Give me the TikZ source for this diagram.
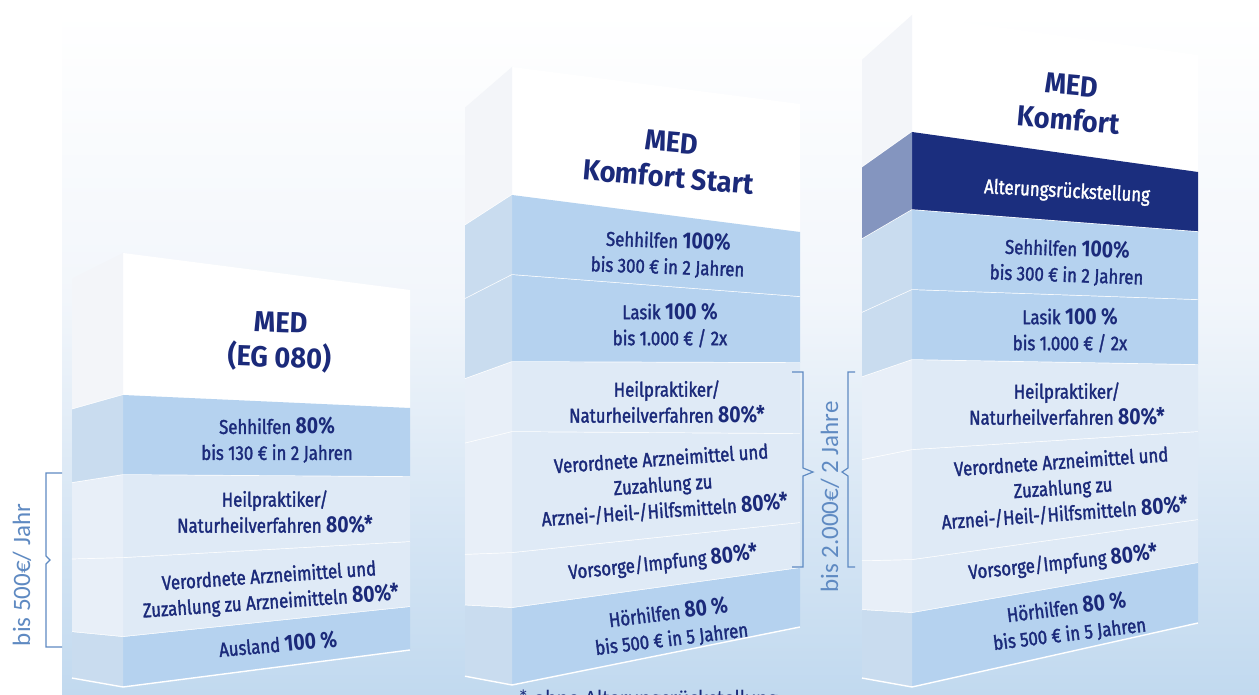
\documentclass[tikz,border=0pt]{standalone}
\usepackage{fontspec}
\setmainfont{Fira Sans}[FakeStretch=0.84]
\newfontfamily\wordfont{Fira Sans}[FakeStretch=0.84, FakeBold=1.6]
\newfontfamily\titlefont{Fira Sans}[FakeStretch=0.94]
\newfontfamily\calfont{Carlito}
\usetikzlibrary{calc}
\definecolor{navy}{HTML}{1B2A7A}
\definecolor{bandblue}{HTML}{B5D2EF}
\definecolor{bandlight}{HTML}{DFEAF6}
\definecolor{bandnavy}{HTML}{1B2E7E}
\definecolor{sideblue}{HTML}{C9DCEF}
\definecolor{sidelight}{HTML}{E8EFF8}
\definecolor{sidewhite}{HTML}{F3F5F9}
\definecolor{sidenavy}{HTML}{8495BF}
\definecolor{bracketblue}{HTML}{5F8AC2}
\definecolor{bgmid}{HTML}{F2F6FB}
\definecolor{bgblue}{HTML}{C1D9EF}
\tikzstyle{bandtext}=[align=center, text=navy, font=\wordfont\fontsize{10}{13}\selectfont, inner sep=0pt]
\tikzstyle{titletext}=[align=center, text=navy, font=\titlefont\fontsize{14.5}{17.5}\selectfont\bfseries, inner sep=0pt]
\tikzstyle{bracket}=[draw=bracketblue, line width=0.6pt]
\tikzstyle{bracketlabel}=[text=bracketblue, font=\calfont\fontsize{12.5}{12.5}\selectfont, rotate=90, inner sep=0pt]
\newcommand{\pct}[1]{{\normalfont\fontsize{11.5}{13}\selectfont\bfseries #1}}

\begin{document}
\begin{tikzpicture}[x=0.5pt, y=-0.5pt]

   \useasboundingbox (0,0) rectangle (1259,695);
   \clip (0,0) rectangle (1259,695);
   \fill[white] (0,0) rectangle (1259,695);
   \shade[top color=white, bottom color=bgmid] (62,10) rectangle (1259,300);
   \shade[top color=bgmid, bottom color=bgblue] (62,299) rectangle (1259,695);

% box 1: MED (EG 080)
  \def\sidex{72} \def\leftx{123} \def\rightx{410}
    \foreach \ta/\tb/\ba/\bb/\col/\scol in {253/290/395/408/white/sidewhite, 395/408/475/477/bandblue/sideblue, 475/477/558/542/bandlight/sidelight, 558/542/637/607/bandlight/sidelight, 637/607/687/650/bandblue/sideblue}
    {
        \fill[\col] (\leftx,\ta) -- (\rightx,\tb) -- (\rightx,\bb) -- (\leftx,\ba) -- cycle;
        \fill[\scol] (\sidex,{0.92*\ta+46}) -- (\leftx,\ta) -- (\leftx,\ba) -- (\sidex,{0.92*\ba+46}) -- cycle;
        \draw[white, line width=0.7pt] (\sidex,{0.92*\ba+46}) -- (\leftx,\ba) -- (\rightx,\bb);
    }

  \node[titletext, rotate=-2] (medeg) at (280,342) {MED\\(EG 080)};
  \node[bandtext] (seh1) at (277,440) {Sehhilfen \pct{80\%}\\bis 130 € in 2 Jahren};
  \node[bandtext] (heil1) at (275,512) {Heilpraktiker/\\Naturheilverfahren \pct{80\%*}};
  \node[bandtext, rotate=4] (arz1) at (270,590) {Verordnete Arzneimittel und\\Zuzahlung zu Arzneimitteln \pct{80\%*}};
  \node[bandtext, rotate=5] (ausl1) at (278,644) {Ausland \pct{100 \%}};

% box 2: MED Komfort Start
  \def\sidex{465} \def\leftx{512} \def\rightx{800}
    \foreach \ta/\tb/\ba/\bb/\col/\scol in {67/104/195/232/white/sidewhite, 195/232/275/297/bandblue/sideblue, 275/297/362/363/bandblue/sideblue, 362/363/432/434/bandlight/sidelight, 432/434/553/523/bandlight/sidelight, 553/523/608/568/bandlight/sidelight, 608/568/685/627/bandblue/sideblue}
    {
        \fill[\col] (\leftx,\ta) -- (\rightx,\tb) -- (\rightx,\bb) -- (\leftx,\ba) -- cycle;
        \fill[\scol] (\sidex,{0.92*\ta+46}) -- (\leftx,\ta) -- (\leftx,\ba) -- (\sidex,{0.92*\ba+46}) -- cycle;
        \draw[white, line width=0.7pt] (\sidex,{0.92*\ba+46}) -- (\leftx,\ba) -- (\rightx,\bb);
    }

  \node[titletext, rotate=-5] (medstart) at (670,160) {MED\\Komfort Start};
  \node[bandtext, rotate=-2] (seh2) at (668,254) {Sehhilfen \pct{100\%}\\bis 300 € in 2 Jahren};
  \node[bandtext] (lasik2) at (670,325) {Lasik \pct{100 \%}\\bis 1.000 € / 2x};
  \node[bandtext] (heil2) at (667,402) {Heilpraktiker/\\Naturheilverfahren \pct{80\%*}};
  \node[bandtext, rotate=4] (arz2) at (663,485) {Verordnete Arzneimittel und\\Zuzahlung zu\\Arznei-/Heil-/Hilfsmitteln \pct{80\%*}};
  \node[bandtext, rotate=6] (vors2) at (663,563) {Vorsorge/Impfung \pct{80\%*}};
  \node[bandtext, rotate=7] (hoer2) at (670,626) {Hörhilfen \pct{80 \%}\\bis 500 € in 5 Jahren};

% box 3: MED Komfort
  \def\sidex{862} \def\leftx{912} \def\rightx{1198}
    \foreach \ta/\tb/\ba/\bb/\col/\scol in {15/55/132/172/white/sidewhite, 132/172/210/232/bandnavy/sidenavy, 210/232/290/300/bandblue/sideblue, 290/300/360/365/bandblue/sideblue, 360/365/450/432/bandlight/sidelight, 450/432/560/520/bandlight/sidelight, 560/520/613/563/bandlight/sidelight, 613/563/687/623/bandblue/sideblue}
    {
        \fill[\col] (\leftx,\ta) -- (\rightx,\tb) -- (\rightx,\bb) -- (\leftx,\ba) -- cycle;
        \fill[\scol] (\sidex,{0.92*\ta+46}) -- (\leftx,\ta) -- (\leftx,\ba) -- (\sidex,{0.92*\ba+46}) -- cycle;
        \draw[white, line width=0.7pt] (\sidex,{0.92*\ba+46}) -- (\leftx,\ba) -- (\rightx,\bb);
    }

  \node[titletext, rotate=-5] (medkomf) at (1070,103) {MED\\Komfort};
  \node[bandtext, text=white, rotate=-3] (alter3) at (1067,192) {Alterungsrückstellung};
  \node[bandtext, rotate=-2] (seh3) at (1067,262) {Sehhilfen \pct{100\%}\\bis 300 € in 2 Jahren};
  \node[bandtext] (lasik3) at (1070,330) {Lasik \pct{100 \%}\\bis 1.000 € / 2x};
  \node[bandtext] (heil3) at (1067,404) {Heilpraktiker/\\Naturheilverfahren \pct{80\%*}};
  \node[bandtext, rotate=4] (arz3) at (1063,488) {Verordnete Arzneimittel und\\Zuzahlung zu\\Arznei-/Heil-/Hilfsmitteln \pct{80\%*}};
  \node[bandtext, rotate=6] (vors3) at (1063,563) {Vorsorge/Impfung \pct{80\%*}};
  \node[bandtext, rotate=7] (hoer3) at (1068,621) {Hörhilfen \pct{80 \%}\\bis 500 € in 5 Jahren};

% brackets
  \coordinate (br1top) at (62,473);
  \coordinate (br1bot) at (62,647);
  \draw[bracket] (br1top) -- ++(-16,0) |- (46,556) -- ++(4,4) -- ++(-4,4) |- (br1bot);
  \node[bracketlabel] (lab500) at (22,575) {bis 500€/ Jahr};

  \coordinate (br2top) at (792,372);
  \coordinate (br2bot) at (792,567);
  \draw[bracket] (br2top) -- ++(11,0) |- (803,468) -- ++(10,4) -- ++(-10,4) |- (br2bot);

  \coordinate (br3top) at (855,372);
  \coordinate (br3bot) at (855,567);
  \draw[bracket] (br3top) -- ++(-7,0) |- (848,468) -- ++(-6,4) -- ++(6,4) |- (br3bot);
  \node[bracketlabel] (lab2000) at (830,497) {bis 2.000€/ 2 Jahre};

  \node[text=navy, font=\calfont\fontsize{11}{11}\selectfont, anchor=north] (fussnote) at (648,683) {* ohne Alterungsrückstellung};

\end{tikzpicture}
\end{document}
